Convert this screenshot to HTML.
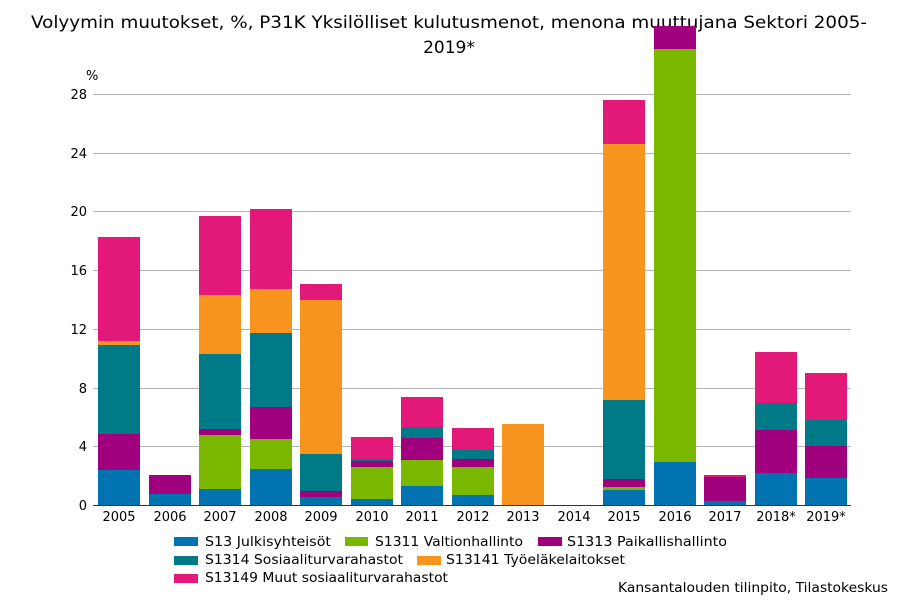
<!DOCTYPE html>
<html><head><meta charset="utf-8"><style>
body{margin:0;background:#fff}
svg{display:block;font-family:"DejaVu Sans","Liberation Sans",sans-serif}
</style></head><body>
<svg width="900" height="600" viewBox="0 0 900 600">
<rect width="900" height="600" fill="#fff"/>
<g fill="#000" font-size="17">
<text x="31" y="28" textLength="836" lengthAdjust="spacingAndGlyphs">Volyymin muutokset, %, P31K Yksilölliset kulutusmenot, menona muuttujana Sektori 2005-</text>
<text x="449" y="53" text-anchor="middle">2019*</text>
</g>
<g stroke="#b4b4b4" stroke-width="1">
<line x1="93" y1="94.5" x2="851" y2="94.5"/><line x1="93" y1="153.5" x2="851" y2="153.5"/>
<line x1="93" y1="211.5" x2="851" y2="211.5"/><line x1="93" y1="270.5" x2="851" y2="270.5"/>
<line x1="93" y1="329.5" x2="851" y2="329.5"/><line x1="93" y1="388.5" x2="851" y2="388.5"/>
<line x1="93" y1="446.5" x2="851" y2="446.5"/>
</g>
<g font-size="13" fill="#000" text-anchor="end">
<text x="87" y="99">28</text><text x="87" y="158">24</text><text x="87" y="216">20</text>
<text x="87" y="275">16</text><text x="87" y="334">12</text><text x="87" y="393">8</text>
<text x="87" y="451">4</text><text x="87" y="510">0</text>
</g>
<text x="86" y="80" font-size="13">%</text>
<g>
<rect x="98" y="470" width="42" height="35" fill="#0073b0"/><rect x="98" y="434" width="42" height="36" fill="#a0007d"/><rect x="98" y="345" width="42" height="89" fill="#007a87"/><rect x="98" y="341" width="42" height="4" fill="#f7941d"/><rect x="98" y="237" width="42" height="104" fill="#e3197a"/>
<rect x="149" y="494" width="42" height="11" fill="#0073b0"/><rect x="149" y="475" width="42" height="19" fill="#a0007d"/>
<rect x="199" y="489" width="42" height="16" fill="#0073b0"/><rect x="199" y="435" width="42" height="54" fill="#7ab800"/><rect x="199" y="429" width="42" height="6" fill="#a0007d"/><rect x="199" y="354" width="42" height="75" fill="#007a87"/><rect x="199" y="295" width="42" height="59" fill="#f7941d"/><rect x="199" y="216" width="42" height="79" fill="#e3197a"/>
<rect x="250" y="469" width="42" height="36" fill="#0073b0"/><rect x="250" y="439" width="42" height="30" fill="#7ab800"/><rect x="250" y="407" width="42" height="32" fill="#a0007d"/><rect x="250" y="333" width="42" height="74" fill="#007a87"/><rect x="250" y="289" width="42" height="44" fill="#f7941d"/><rect x="250" y="209" width="42" height="80" fill="#e3197a"/>
<rect x="300" y="497" width="42" height="8" fill="#0073b0"/><rect x="300" y="491" width="42" height="6" fill="#a0007d"/><rect x="300" y="454" width="42" height="37" fill="#007a87"/><rect x="300" y="300" width="42" height="154" fill="#f7941d"/><rect x="300" y="284" width="42" height="16" fill="#e3197a"/>
<rect x="351" y="499" width="42" height="6" fill="#0073b0"/><rect x="351" y="467" width="42" height="32" fill="#7ab800"/><rect x="351" y="461" width="42" height="6" fill="#a0007d"/><rect x="351" y="459" width="42" height="2" fill="#007a87"/><rect x="351" y="437" width="42" height="22" fill="#e3197a"/>
<rect x="401" y="486" width="42" height="19" fill="#0073b0"/><rect x="401" y="460" width="42" height="26" fill="#7ab800"/><rect x="401" y="438" width="42" height="22" fill="#a0007d"/><rect x="401" y="427" width="42" height="11" fill="#007a87"/><rect x="401" y="397" width="42" height="30" fill="#e3197a"/>
<rect x="452" y="495" width="42" height="10" fill="#0073b0"/><rect x="452" y="467" width="42" height="28" fill="#7ab800"/><rect x="452" y="459" width="42" height="8" fill="#a0007d"/><rect x="452" y="450" width="42" height="9" fill="#007a87"/><rect x="452" y="428" width="42" height="22" fill="#e3197a"/>
<rect x="502" y="424" width="42" height="81" fill="#f7941d"/>
<rect x="603" y="490" width="42" height="15" fill="#0073b0"/><rect x="603" y="487" width="42" height="3" fill="#7ab800"/><rect x="603" y="479" width="42" height="8" fill="#a0007d"/><rect x="603" y="400" width="42" height="79" fill="#007a87"/><rect x="603" y="144" width="42" height="256" fill="#f7941d"/><rect x="603" y="100" width="42" height="44" fill="#e3197a"/>
<rect x="654" y="462" width="42" height="43" fill="#0073b0"/><rect x="654" y="49" width="42" height="413" fill="#7ab800"/><rect x="654" y="26" width="42" height="23" fill="#a0007d"/>
<rect x="704" y="501" width="42" height="4" fill="#0073b0"/><rect x="704" y="477" width="42" height="24" fill="#a0007d"/><rect x="704" y="475" width="42" height="2" fill="#e3197a"/>
<rect x="755" y="473" width="42" height="32" fill="#0073b0"/><rect x="755" y="430" width="42" height="43" fill="#a0007d"/><rect x="755" y="403" width="42" height="27" fill="#007a87"/><rect x="755" y="352" width="42" height="51" fill="#e3197a"/>
<rect x="805" y="478" width="42" height="27" fill="#0073b0"/><rect x="805" y="446" width="42" height="32" fill="#a0007d"/><rect x="805" y="420" width="42" height="26" fill="#007a87"/><rect x="805" y="373" width="42" height="47" fill="#e3197a"/>
</g>
<line x1="93" y1="505.5" x2="851" y2="505.5" stroke="#333" stroke-width="1"/>
<g font-size="13" fill="#000" text-anchor="middle">
<text x="119" y="521">2005</text><text x="170" y="521">2006</text><text x="220" y="521">2007</text><text x="271" y="521">2008</text><text x="321" y="521">2009</text><text x="372" y="521">2010</text><text x="422" y="521">2011</text><text x="473" y="521">2012</text><text x="523" y="521">2013</text><text x="574" y="521">2014</text><text x="624" y="521">2015</text><text x="675" y="521">2016</text><text x="725" y="521">2017</text><text x="776" y="521">2018*</text><text x="826" y="521">2019*</text>
</g>
<g font-size="13" fill="#000">
<rect x="174" y="537" width="24" height="9" fill="#0073b0"/><text x="205" y="546" textLength="126" lengthAdjust="spacingAndGlyphs">S13 Julkisyhteisöt</text>
<rect x="345" y="537" width="23" height="9" fill="#7ab800"/><text x="375" y="546" textLength="148" lengthAdjust="spacingAndGlyphs">S1311 Valtionhallinto</text>
<rect x="538" y="537" width="24" height="9" fill="#a0007d"/><text x="567" y="546" textLength="160" lengthAdjust="spacingAndGlyphs">S1313 Paikallishallinto</text>
<rect x="174" y="556" width="24" height="9" fill="#007a87"/><text x="205" y="564" textLength="198" lengthAdjust="spacingAndGlyphs">S1314 Sosiaaliturvarahastot</text>
<rect x="417" y="556" width="24" height="9" fill="#f7941d"/><text x="446" y="564" textLength="179" lengthAdjust="spacingAndGlyphs">S13141 Työeläkelaitokset</text>
<rect x="174" y="574" width="24" height="9" fill="#e3197a"/><text x="205" y="582" textLength="243" lengthAdjust="spacingAndGlyphs">S13149 Muut sosiaaliturvarahastot</text>
<text x="618" y="592" textLength="270" lengthAdjust="spacingAndGlyphs">Kansantalouden tilinpito, Tilastokeskus</text>
</g>
</svg>
</body></html>
